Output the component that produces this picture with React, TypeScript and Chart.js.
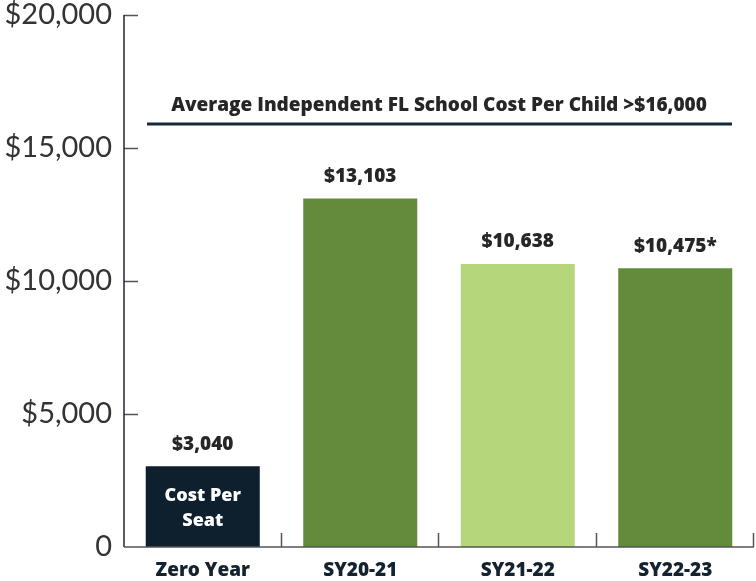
import React, { useEffect, useRef } from "react";
import { Chart, registerables } from "chart.js";

Chart.register(...registerables);

const categories = ["Zero Year", "SY20-21", "SY21-22", "SY22-23"];
const values = [3040, 13103, 10638, 10475];
const valueLabels = ["$3,040", "$13,103", "$10,638", "$10,475*"];
const barColors = ["#0e1f2d", "#628c3b", "#b5d67b", "#628c3b"];
const yTickValues = [0, 5000, 10000, 15000, 20000];
const yTickLabels = ["0", "$5,000", "$10,000", "$15,000", "$20,000"];
const refLineValue = 15900;
const refLineText = "Average Independent FL School Cost Per Child >$16,000";
const insideText = ["Cost Per", "Seat"];

const BOLD = "'Open Sans', 'Noto Sans', sans-serif";

const annotPlugin = {
  id: "annot",
  afterDraw(chart: any) {
    const ctx = chart.ctx;
    const y = chart.scales.y;
    const area = chart.chartArea;
    ctx.save();
    ctx.strokeStyle = "#555555";
    ctx.lineWidth = 1.5;
    yTickValues.forEach((v) => {
      if (v === 0) return;
      const py = Math.round(y.getPixelForValue(v)) + 0.5;
      ctx.beginPath();
      ctx.moveTo(area.left, py);
      ctx.lineTo(area.left + 14, py);
      ctx.stroke();
    });
    const n = categories.length;
    const step = (area.right - area.left) / n;
    for (let i = 1; i <= n; i++) {
      const px = Math.round(area.left + step * i) - 0.5;
      ctx.beginPath();
      ctx.moveTo(px, area.bottom);
      ctx.lineTo(px, area.bottom - 14);
      ctx.stroke();
    }
    ctx.strokeStyle = "#1c2630";
    ctx.lineWidth = 1.5;
    ctx.beginPath();
    ctx.moveTo(area.left, area.top);
    ctx.lineTo(area.left, area.bottom);
    ctx.stroke();
    ctx.strokeStyle = "#555555";
    ctx.beginPath();
    ctx.moveTo(area.left, area.bottom);
    ctx.lineTo(area.right, area.bottom);
    ctx.stroke();

    const ry = y.getPixelForValue(refLineValue);
    ctx.strokeStyle = "#16283a";
    ctx.lineWidth = 3;
    ctx.beginPath();
    ctx.moveTo(area.left + 23, ry);
    ctx.lineTo(area.right - 22, ry);
    ctx.stroke();
    ctx.fillStyle = "#262626";
    ctx.font = `800 19px ${BOLD}`;
    ctx.textAlign = "center";
    ctx.textBaseline = "middle";
    ctx.fillText(refLineText, (area.left + area.right) / 2, ry - 18);

    const meta = chart.getDatasetMeta(0);
    meta.data.forEach((bar: any, i: number) => {
      ctx.fillStyle = "#262626";
      ctx.font = `800 19px ${BOLD}`;
      ctx.fillText(valueLabels[i], bar.x, bar.y - 22);
    });
    const b0 = meta.data[0];
    ctx.fillStyle = "#ffffff";
    ctx.font = `800 18px ${BOLD}`;
    ctx.fillText(insideText[0], b0.x, b0.y + 30);
    ctx.fillText(insideText[1], b0.x, b0.y + 55);
    ctx.restore();
  },
};

export default function App() {
  const ref = useRef<HTMLCanvasElement>(null);
  useEffect(() => {
    const chart = new Chart(ref.current!, {
      type: "bar",
      data: {
        labels: categories,
        datasets: [
          {
            data: values,
            backgroundColor: barColors,
            barPercentage: 0.724,
            categoryPercentage: 1,
          },
        ],
      },
      options: {
        animation: false,
        responsive: false,
        maintainAspectRatio: false,
        layout: { padding: { top: 15, right: 2, left: 0, bottom: 0 } },
        plugins: { legend: { display: false }, tooltip: { enabled: false } },
        scales: {
          y: {
            min: 0,
            max: 20000,
            afterFit(scale: any) {
              scale.width = 124;
              scale.paddingTop = 0;
              scale.paddingBottom = 0;
            },
            afterBuildTicks(scale: any) {
              scale.ticks = yTickValues.map((v) => ({ value: v }));
            },
            border: { display: false },
            grid: { display: false, drawTicks: false },
            ticks: {
              padding: 12,
              color: "#333333",
              font: { family: "Lato, 'Noto Sans', sans-serif", size: 29, weight: "normal" },
              callback: (v: any) => yTickLabels[yTickValues.indexOf(Number(v))] ?? "",
            },
          },
          x: {
            afterFit(scale: any) {
              scale.height = 34;
              scale.paddingLeft = 0;
              scale.paddingRight = 0;
            },
            border: { display: false },
            grid: { display: false, drawTicks: false },
            ticks: {
              padding: 12,
              color: "#13222f",
              font: { family: BOLD, size: 19, weight: "800" },
            },
          },
        },
      },
      plugins: [annotPlugin],
    } as any);
    return () => chart.destroy();
  }, []);
  return (
    <div style={{ position: "absolute", left: 0, top: 0, width: 756, height: 581, background: "#fff" }}>
      <canvas ref={ref} width={756} height={581} style={{ display: "block" }} />
    </div>
  );
}
